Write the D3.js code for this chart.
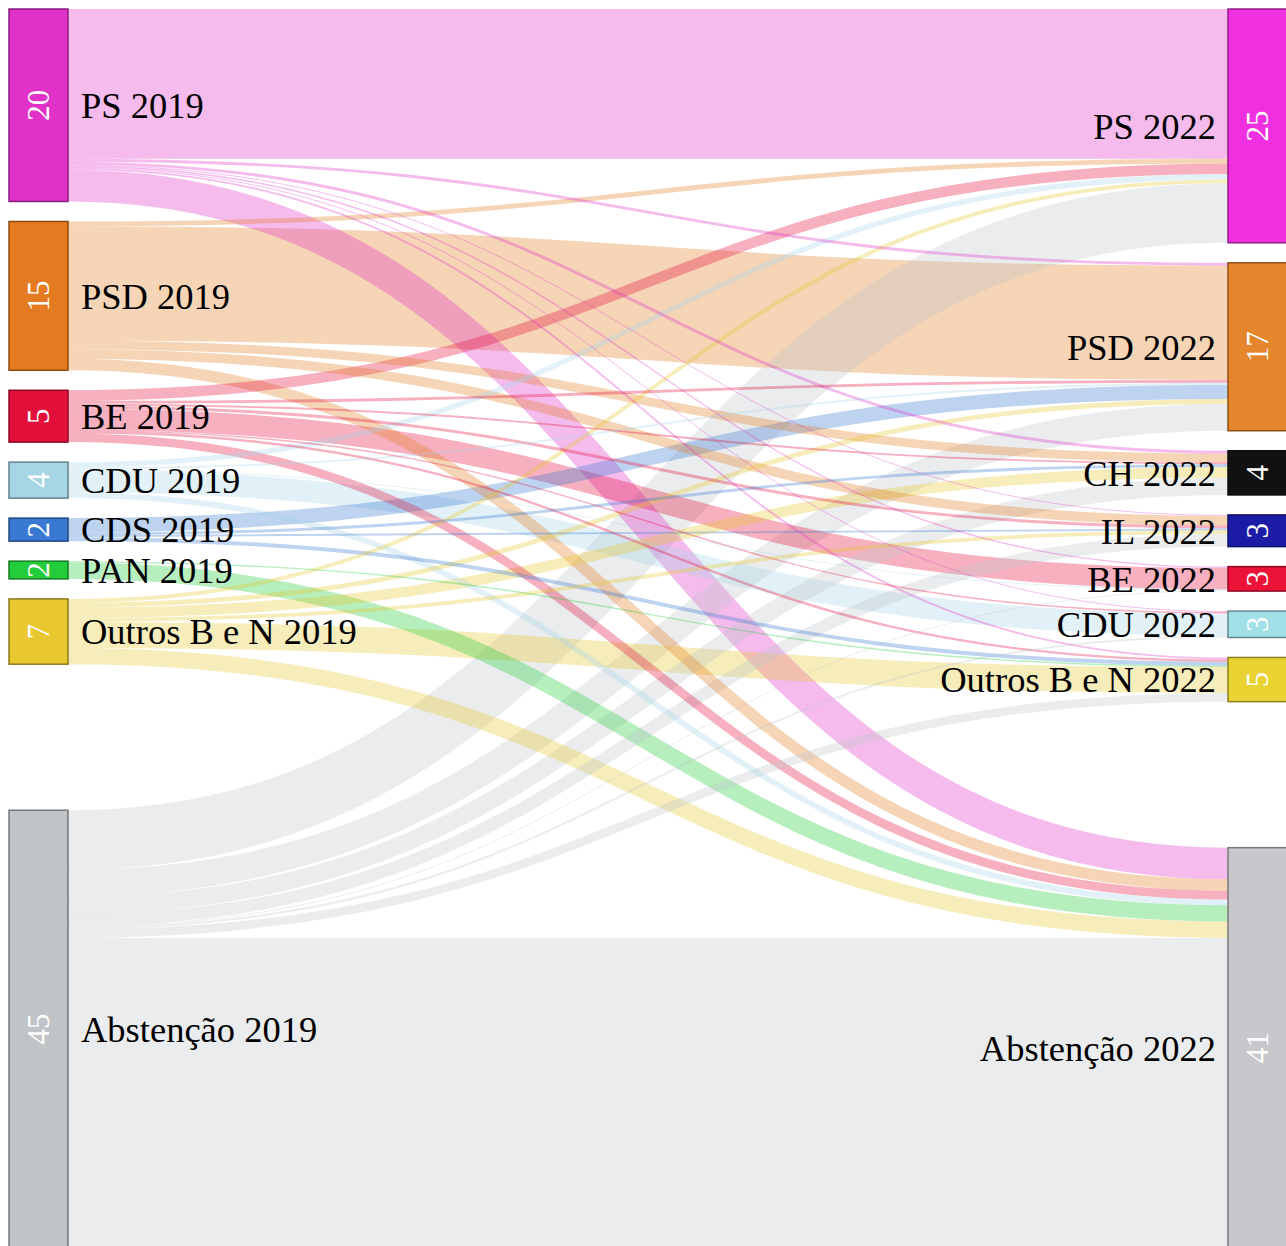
<!DOCTYPE html>
<html>
<head>
<meta charset="utf-8">
<script src="https://cdn.jsdelivr.net/npm/d3@7"></script>
<style>
  body { margin: 0; background: #ffffff; }
  svg { display: block; }
</style>
</head>
<body>
<svg id="chart" width="1286" height="1246"></svg>
<script>
// ---------------- DATA ----------------
const nodes2019 = ["PS 2019", "PSD 2019", "BE 2019", "CDU 2019", "CDS 2019", "PAN 2019", "Outros B e N 2019", "Abstenção 2019"];
const nodes2022 = ["PS 2022", "PSD 2022", "CH 2022", "IL 2022", "BE 2022", "CDU 2022", "Outros B e N 2022", "Abstenção 2022"];
// totals printed inside the node bars
const shown2019 = [20, 15, 5, 4, 2, 2, 7, 45];
const shown2022 = [25, 17, 4, 3, 3, 3, 5, 41];
const colors2019 = ["#e031c9", "#e57b20", "#e3103c", "#a6d5e6", "#3a79d2", "#22cc3a", "#e8c72f", "#c0c4c7"];
const colors2022 = ["#f02fe0", "#e5852c", "#111111", "#1b1ba6", "#ec1238", "#a2e0e8", "#e9d333", "#c8c8cc"];
// flows (% of electorate), one array per 2019 origin, ordered like nodes2022
const fromPS     = [15.6, 0.3, 0.3, 0.1, 0.15, 0.1, 0.2, 3.3];
const fromPSD    = [0.5, 11.9, 0.9, 1.0, 0, 0, 0, 1.2];
const fromBE     = [1.1, 0.3, 0.2, 0.3, 2.2, 0.15, 0.25, 0.9];
const fromCDU    = [0.55, 0.2, 0, 0, 0.1, 2.3, 0, 0.6];
const fromCDS    = [0, 1.5, 0.3, 0.2, 0, 0, 0.4, 0];
const fromPAN    = [0, 0, 0, 0, 0, 0, 0.15, 1.7];
const fromOutros = [0.4, 0.5, 1.1, 0.4, 0, 0, 2.7, 1.7];
const fromAbst   = [6.2, 2.8, 1.8, 1.3, 0.1, 0.2, 0.9, 32.3];
const flows = [fromPS, fromPSD, fromBE, fromCDU, fromCDS, fromPAN, fromOutros, fromAbst];

// ---------------- LAYOUT ----------------
const svg = d3.select("#chart");
const nodeWidth = 59, nodePadding = 20, yTop = 9, yBottom = 1248;
const colX = d3.scaleLinear().domain([0, 1]).range([9, 1228]);
const unit = d3.scaleLinear().domain([0, 100]).range([0, 960]);
const FONT = "'Liberation Serif', 'Times New Roman', Times, serif";

const left = nodes2019.map((name, i) => ({name, col: 0, shown: shown2019[i], color: colors2019[i], sourceLinks: [], targetLinks: []}));
const right = nodes2022.map((name, i) => ({name, col: 1, shown: shown2022[i], color: colors2022[i], sourceLinks: [], targetLinks: []}));
const nodes = left.concat(right);

const links = [];
flows.forEach((row, i) => row.forEach((v, j) => {
  if (v > 0) links.push({source: left[i], target: right[j], value: v});
}));
links.forEach(l => {
  l.source.sourceLinks.push(l);
  l.target.targetLinks.push(l);
  l.width = unit(l.value);
});
nodes.forEach(n => {
  n.value = Math.max(d3.sum(n.sourceLinks, l => l.value), d3.sum(n.targetLinks, l => l.value));
});
[left, right].forEach(col => {
  let y = yTop;
  col.forEach((n, i) => {
    const h = unit(n.value);
    if (i === col.length - 1) { n.y1 = yBottom; n.y0 = yBottom - h; }
    else { n.y0 = y; n.y1 = y + h; y = n.y1 + nodePadding; }
    n.x0 = colX(n.col);
    n.x1 = n.x0 + nodeWidth;
  });
});
nodes.forEach(n => {
  n.sourceLinks.sort((a, b) => a.target.y0 - b.target.y0);
  n.targetLinks.sort((a, b) => a.source.y0 - b.source.y0);
  let y = n.y0;
  n.sourceLinks.forEach(l => { l.y0 = y + l.width / 2; y += l.width; });
  y = n.y0;
  n.targetLinks.forEach(l => { l.y1 = y + l.width / 2; y += l.width; });
});

const linkPath = d3.linkHorizontal()
  .source(l => [l.source.x1, l.y0])
  .target(l => [l.target.x0, l.y1]);

// ---------------- DRAW ----------------
svg.append("g")
  .attr("fill", "none")
  .selectAll("path")
  .data(links.slice().sort((a, b) => b.value - a.value))
  .join("path")
  .attr("d", linkPath)
  .attr("stroke", l => l.source.color)
  .attr("stroke-opacity", 0.33)
  .attr("stroke-width", l => Math.max(0.6, l.width));

const node = svg.append("g")
  .selectAll("g")
  .data(nodes)
  .join("g");

node.append("rect")
  .attr("x", d => d.x0)
  .attr("y", d => d.y0)
  .attr("width", d => d.x1 - d.x0)
  .attr("height", d => d.y1 - d.y0)
  .attr("fill", d => d.color)
  .attr("stroke", d => d3.color(d.color).darker(1.4))
  .attr("stroke-width", 1.5);

node.append("text")
  .attr("transform", d => `translate(${(d.x0 + d.x1) / 2},${(d.y0 + d.y1) / 2}) rotate(-90)`)
  .attr("text-anchor", "middle")
  .attr("dy", "0.35em")
  .attr("fill", "#ffffff")
  .style("font-family", FONT)
  .style("font-size", "31px")
  .text(d => d.shown);

node.append("text")
  .attr("x", d => d.col === 0 ? d.x1 + 13 : d.x0 - 12)
  .attr("y", d => (d.y0 + d.y1) / 2)
  .attr("dy", "0.35em")
  .attr("text-anchor", d => d.col === 0 ? "start" : "end")
  .attr("fill", "#000000")
  .style("font-family", FONT)
  .style("font-size", "36.5px")
  .text(d => d.name);
</script>
</body>
</html>
